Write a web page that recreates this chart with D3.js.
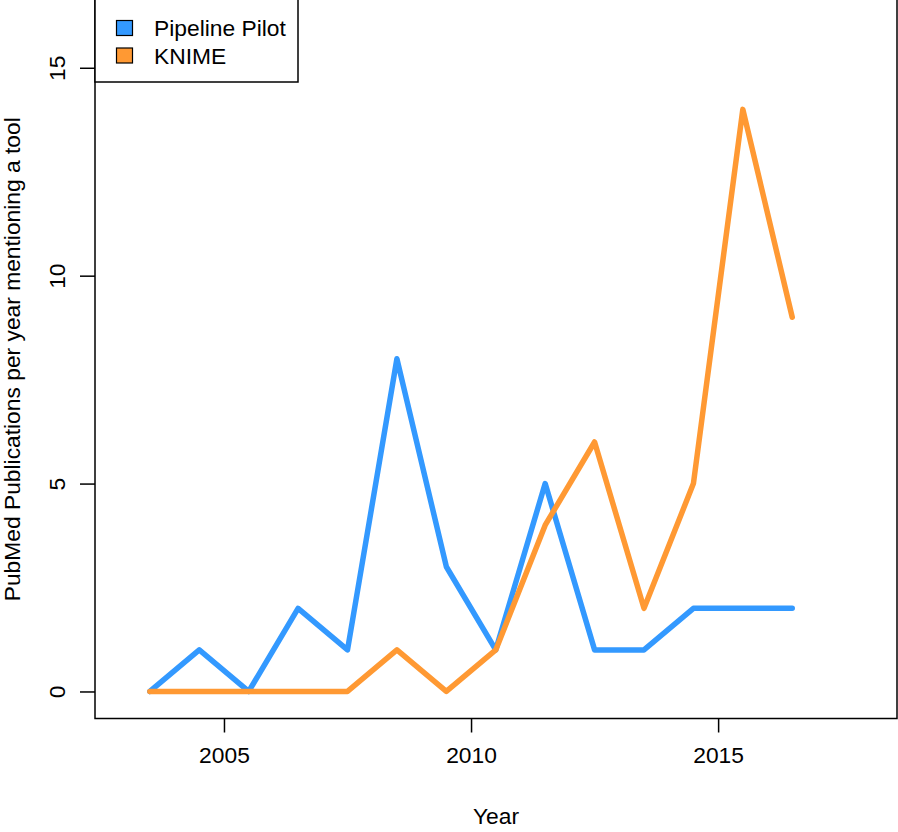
<!DOCTYPE html>
<html>
  <head>
    <meta charset="utf-8">
    <script src="https://d3js.org/d3.v7.min.js"></script>
    <style>
      body { margin: 0px; background: #fff; }
      text { font-family: "Liberation Sans", Arial, sans-serif; fill: #000; }
    </style>
  </head>
  <body>
    <svg width="898" height="832"></svg>
    <script>
      // data
      const years = [2003.5, 2004.5, 2005.5, 2006.5, 2007.5, 2008.5, 2009.5,
                     2010.5, 2011.5, 2012.5, 2013.5, 2014.5, 2015.5, 2016.5];
      const pipelinePilot = [0, 1, 0, 2, 1, 8, 3, 1, 5, 1, 1, 2, 2, 2];
      const knime = [0, 0, 0, 0, 0, 1, 0, 1, 4, 6, 2, 5, 14, 9];
      const xTicks = [2005, 2010, 2015];
      const yTicks = [0, 5, 10, 15];
      const seriesNames = ['Pipeline Pilot', 'KNIME'];
      const seriesColors = ['#3399FF', '#FF9933'];

      const svg = d3.select('svg');
      const plotL = 95, plotR = 897, plotT = 0, plotB = 718.5;
      const fs = '22.8px';

      const xScale = d3.scaleLinear().domain([2002.39, 2018.62]).range([plotL, plotR]);
      const yScale = d3.scaleLinear().domain([-0.65, 16.63]).range([plotB, plotT]);

      const line = d3.line()
        .x((d, i) => xScale(years[i]))
        .y(d => yScale(d));

      [pipelinePilot, knime].forEach((vals, k) => {
        svg.append('path')
          .datum(vals)
          .attr('fill', 'none')
          .attr('stroke', seriesColors[k])
          .attr('stroke-width', 5.5)
          .attr('stroke-linejoin', 'round')
          .attr('stroke-linecap', 'round')
          .attr('d', line);
      });

      // plot box
      svg.append('rect')
        .attr('x', plotL).attr('y', plotT - 2)
        .attr('width', plotR - plotL).attr('height', plotB - plotT + 2)
        .attr('fill', 'none')
        .attr('stroke', '#000')
        .attr('stroke-width', 1.5);

      // x axis
      const xAxis = d3.axisBottom(xScale).tickValues(xTicks).tickSize(14).tickPadding(14)
        .tickFormat(d3.format('d'));
      const xg = svg.append('g').attr('transform', `translate(0,${plotB})`).call(xAxis);
      xg.select('.domain').remove();
      xg.selectAll('.tick line').attr('stroke', '#000').attr('stroke-width', 1.5);
      xg.selectAll('.tick text').style('font-size', fs).attr('fill', '#000')
        .style('font-family', '"Liberation Sans", Arial, sans-serif');

      // y axis
      const yAxis = d3.axisLeft(yScale).tickValues(yTicks).tickSize(15).tickPadding(0);
      const yg = svg.append('g').attr('transform', `translate(${plotL},0)`).call(yAxis);
      yg.select('.domain').remove();
      yg.selectAll('.tick line').attr('stroke', '#000').attr('stroke-width', 1.5);
      yg.selectAll('.tick text')
        .attr('x', 0).attr('y', 0).attr('dy', 0)
        .attr('transform', 'translate(-30,0) rotate(-90)')
        .attr('text-anchor', 'middle')
        .attr('fill', '#000')
        .style('font-size', fs)
        .style('font-family', '"Liberation Sans", Arial, sans-serif');

      // axis labels
      svg.append('text')
        .attr('x', (plotL + plotR) / 2).attr('y', 824)
        .attr('text-anchor', 'middle')
        .style('font-size', fs)
        .text('Year');

      svg.append('text')
        .attr('transform', `translate(20,${(plotT + plotB) / 2}) rotate(-90)`)
        .attr('text-anchor', 'middle')
        .style('font-size', fs)
        .text('PubMed Publications per year mentioning a tool');

      // legend
      const lg = svg.append('g');
      lg.append('rect')
        .attr('x', plotL).attr('y', -2)
        .attr('width', 203).attr('height', 84)
        .attr('fill', '#fff').attr('stroke', '#000').attr('stroke-width', 1.5);
      seriesNames.forEach((name, i) => {
        lg.append('rect')
          .attr('x', 116.5).attr('y', 20.5 + i * 27.5)
          .attr('width', 16).attr('height', 15)
          .attr('fill', seriesColors[i]).attr('stroke', '#000').attr('stroke-width', 1.2);
        lg.append('text')
          .attr('x', 154).attr('y', 36 + i * 27.5)
          .style('font-size', fs)
          .text(name);
      });
    </script>
  </body>
</html>
